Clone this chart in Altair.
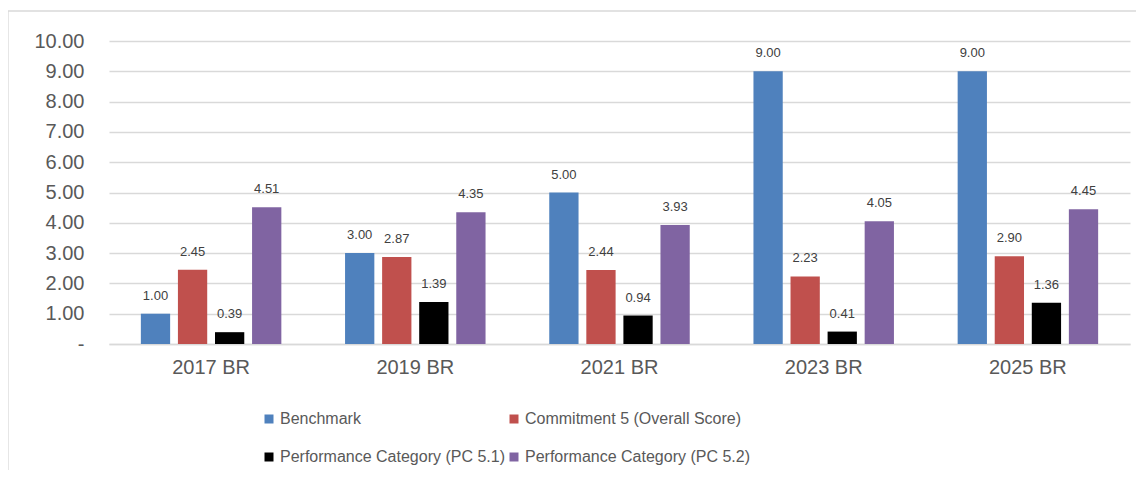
import altair as alt
import pandas as pd

years = ["2017 BR", "2019 BR", "2021 BR", "2023 BR", "2025 BR"]
series_names = [
    "Benchmark",
    "Commitment 5 (Overall Score)",
    "Performance Category (PC 5.1)",
    "Performance Category (PC 5.2)",
]
benchmark = [1.00, 3.00, 5.00, 9.00, 9.00]
commitment = [2.45, 2.87, 2.44, 2.23, 2.90]
pc51 = [0.39, 1.39, 0.94, 0.41, 1.36]
pc52 = [4.51, 4.35, 3.93, 4.05, 4.45]
colors = ["#4F81BD", "#C0504D", "#000000", "#8064A2"]
y_ticks = [0, 1, 2, 3, 4, 5, 6, 7, 8, 9, 10]

rows = []
for vals, name in zip([benchmark, commitment, pc51, pc52], series_names):
    for y, v in zip(years, vals):
        rows.append({"year": y, "series": name, "value": v})
df = pd.DataFrame(rows)

# legend is laid out column by column, so order entries to read row by row
legend_order = [series_names[0], series_names[2], series_names[1], series_names[3]]
legend_colors = [colors[0], colors[2], colors[1], colors[3]]

FONT = "Liberation Sans"

base = alt.Chart(df).encode(
    x=alt.X(
        "year:N",
        sort=years,
        scale=alt.Scale(paddingInner=0.312, paddingOuter=0.156),
        axis=alt.Axis(
            title=None,
            labelAngle=0,
            labelFontSize=20,
            labelFont=FONT,
            labelColor="#595959",
            ticks=False,
            domainColor="#D9D9D9",
            domainWidth=1.3,
            labelPadding=13,
            grid=False,
        ),
    ),
    xOffset=alt.XOffset(
        "series:N",
        sort=series_names,
        scale=alt.Scale(paddingInner=0.21, paddingOuter=0),
    ),
    y=alt.Y(
        "value:Q",
        scale=alt.Scale(domain=[0, 10], nice=False, zero=True),
        axis=alt.Axis(
            title=None,
            values=y_ticks,
            tickCount=11,
            labelExpr="datum.value == 0 ? '-\u00a0\u00a0' : format(datum.value, '.2f')",
            labelFontSize=20,
            labelFont=FONT,
            labelColor="#595959",
            labelOverlap=False,
            ticks=False,
            domain=False,
            gridColor="#D9D9D9",
            gridWidth=1.3,
            labelPadding=25,
        ),
    ),
)

bars = base.mark_bar().encode(
    color=alt.Color(
        "series:N",
        scale=alt.Scale(domain=legend_order, range=legend_colors),
        legend=alt.Legend(
            orient="none",
            legendX=152,
            legendY=370,
            columns=2,
            title=None,
            symbolType="square",
            symbolSize=81,
            symbolStrokeWidth=0,
            labelFontSize=16,
            labelFont=FONT,
            labelColor="#595959",
            labelLimit=400,
            rowPadding=22,
            columnPadding=1,
            labelOffset=3,
            padding=0,
        ),
    ),
)

labels = base.mark_text(
    baseline="alphabetic", dy=-14, fontSize=13, font=FONT, color="#404040"
).encode(
    text=alt.Text("value:Q", format=".2f"),
)

frame = alt.Chart(pd.DataFrame({"f": [0]})).mark_rect(
    fillOpacity=0, stroke="#D9D9D9", strokeWidth=1.3
).encode(
    x=alt.value(-101),
    y=alt.value(-30),
    x2=alt.value(1040),
    y2=alt.value(450),
)

chart = (
    alt.layer(frame, bars, labels)
    .properties(
        width=1021,
        height=303,
        autosize=alt.AutoSizeParams(type="none"),
        padding={"left": 101, "top": 33, "right": 6, "bottom": 126},
    )
    .configure_view(strokeWidth=0)
)

chart.save("out.html", embed_options={"renderer": "svg", "actions": False})
